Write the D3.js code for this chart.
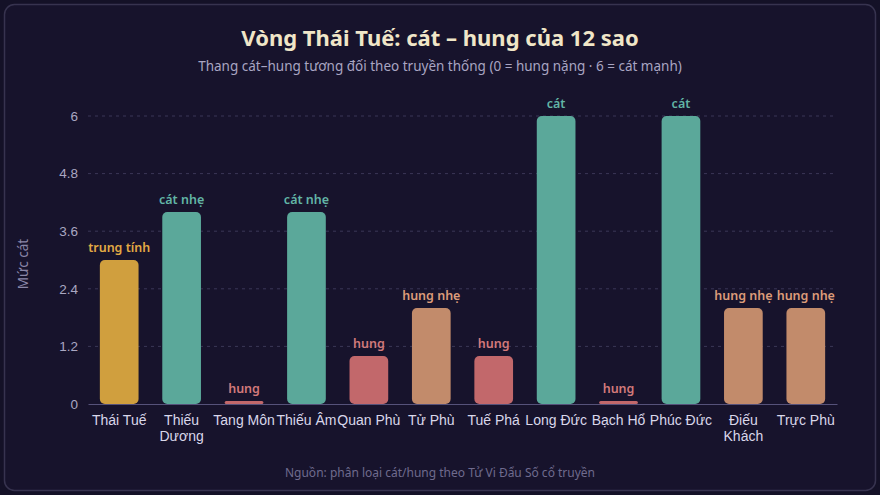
<!DOCTYPE html>
<html lang="vi">
<head>
<meta charset="UTF-8">
<script src="https://cdnjs.cloudflare.com/ajax/libs/d3/7.8.5/d3.min.js"></script>
<style>
  html, body { margin: 0; padding: 0; background: #141127; }
  svg { display: block; font-family: "Noto Sans", "Open Sans", sans-serif; }
</style>
</head>
<body>
<div id="chart"></div>
<script>
  // data
  const stars = ["Thái Tuế", "Thiếu Dương", "Tang Môn", "Thiếu Âm", "Quan Phù", "Tử Phù",
                 "Tuế Phá", "Long Đức", "Bạch Hổ", "Phúc Đức", "Điếu Khách", "Trực Phù"];
  const scores = [3, 4, 0, 4, 1, 2, 1, 6, 0, 6, 2, 2];
  const labels = ["trung tính", "cát nhẹ", "hung", "cát nhẹ", "hung", "hung nhẹ",
                  "hung", "cát", "hung", "cát", "hung nhẹ", "hung nhẹ"];
  const yTicks = [0, 1.2, 2.4, 3.6, 4.8, 6];

  const barColor = {
    "trung tính": "#d09f3e",
    "cát nhẹ": "#5ba89a",
    "cát": "#5ba89a",
    "hung": "#c2686b",
    "hung nhẹ": "#c28b6b"
  };
  const textColor = {
    "trung tính": "#e2aa44",
    "cát nhẹ": "#62b5a6",
    "cát": "#62b5a6",
    "hung": "#d27a7b",
    "hung nhẹ": "#dc9c7a"
  };

  const width = 880, height = 495;
  const m = { left: 88, right: 43, top: 116, bottom: 91 };

  const svg = d3.select("#chart").append("svg")
    .attr("width", width).attr("height", height);

  // card
  svg.append("rect")
    .attr("x", 4.5).attr("y", 4.5)
    .attr("width", width - 9).attr("height", height - 9)
    .attr("rx", 10)
    .attr("fill", "#17132c")
    .attr("stroke", "#37334f")
    .attr("stroke-width", 1.5);

  // titles
  svg.append("text")
    .attr("x", width / 2).attr("y", 46)
    .attr("text-anchor", "middle")
    .attr("fill", "#f0e6c8")
    .style("font-size", "22px").style("font-weight", "bold")
    .text("Vòng Thái Tuế: cát – hung của 12 sao");
  svg.append("text")
    .attr("x", width / 2).attr("y", 71)
    .attr("text-anchor", "middle")
    .attr("fill", "#a9a5c2")
    .style("font-size", "13.5px")
    .text("Thang cát–hung tương đối theo truyền thống (0 = hung nặng · 6 = cát mạnh)");

  const x = d3.scaleBand()
    .domain(stars)
    .range([m.left, width - m.right])
    .paddingInner(0.38)
    .paddingOuter(0.19);
  const y = d3.scaleLinear()
    .domain([0, 6])
    .range([height - m.bottom, m.top]);

  // grid
  svg.append("g")
    .selectAll("line")
    .data(yTicks.filter(d => d > 0))
    .join("line")
    .attr("x1", m.left).attr("x2", width - m.right)
    .attr("y1", d => y(d)).attr("y2", d => y(d))
    .attr("stroke", "#3b3757")
    .attr("stroke-dasharray", "3,4");

  // y axis
  const yAxis = svg.append("g")
    .attr("transform", `translate(${m.left},0)`)
    .call(d3.axisLeft(y).tickValues(yTicks).tickSize(0).tickPadding(10).tickFormat(d3.format("")));
  yAxis.select(".domain").remove();
  yAxis.selectAll("text")
    .attr("fill", "#aaa7c2")
    .style("font-size", "13.5px");

  svg.append("text")
    .attr("transform", `translate(28,${(y(0) + y(6)) / 2 + 4}) rotate(-90)`)
    .attr("text-anchor", "middle")
    .attr("fill", "#8a86a8")
    .style("font-size", "13.5px")
    .text("Mức cát");

  // bars
  const minH = 3;
  svg.append("g")
    .selectAll("rect")
    .data(stars)
    .join("rect")
    .attr("x", d => x(d))
    .attr("width", x.bandwidth())
    .attr("y", (d, i) => Math.min(y(scores[i]), y(0) - minH))
    .attr("height", (d, i) => Math.max(y(0) - y(scores[i]), minH))
    .attr("rx", (d, i) => scores[i] > 0 ? 5 : 1.5)
    .attr("fill", (d, i) => barColor[labels[i]]);

  // value labels
  svg.append("g")
    .selectAll("text")
    .data(stars)
    .join("text")
    .attr("x", d => x(d) + x.bandwidth() / 2)
    .attr("y", (d, i) => Math.min(y(scores[i]), y(0) - minH) - 8)
    .attr("text-anchor", "middle")
    .attr("fill", (d, i) => textColor[labels[i]])
    .style("font-size", "12.5px").style("font-weight", "600")
    .text((d, i) => labels[i]);

  // x axis
  const xAxis = svg.append("g")
    .attr("transform", `translate(0,${y(0)})`)
    .call(d3.axisBottom(x).tickSize(0).tickPadding(11));
  xAxis.select(".domain").attr("stroke", "#56527a").attr("stroke-width", 1.2);
  xAxis.selectAll("text")
    .attr("fill", "#d9d7ea")
    .style("font-size", "14px")
    .each(function (d) {
      const t = d3.select(this);
      if (this.getComputedTextLength() > 70) {
        const words = d.split(" ");
        const dy = t.attr("dy");
        t.text(null);
        words.forEach((w, k) => {
          t.append("tspan")
            .attr("x", 0)
            .attr("dy", k === 0 ? dy : "1.15em")
            .text(w);
        });
      }
    });

  // footer
  svg.append("text")
    .attr("x", width / 2).attr("y", 477)
    .attr("text-anchor", "middle")
    .attr("fill", "#6f6b8e")
    .style("font-size", "12px")
    .text("Nguồn: phân loại cát/hung theo Tử Vi Đẩu Số cổ truyền");
</script>
</body>
</html>
